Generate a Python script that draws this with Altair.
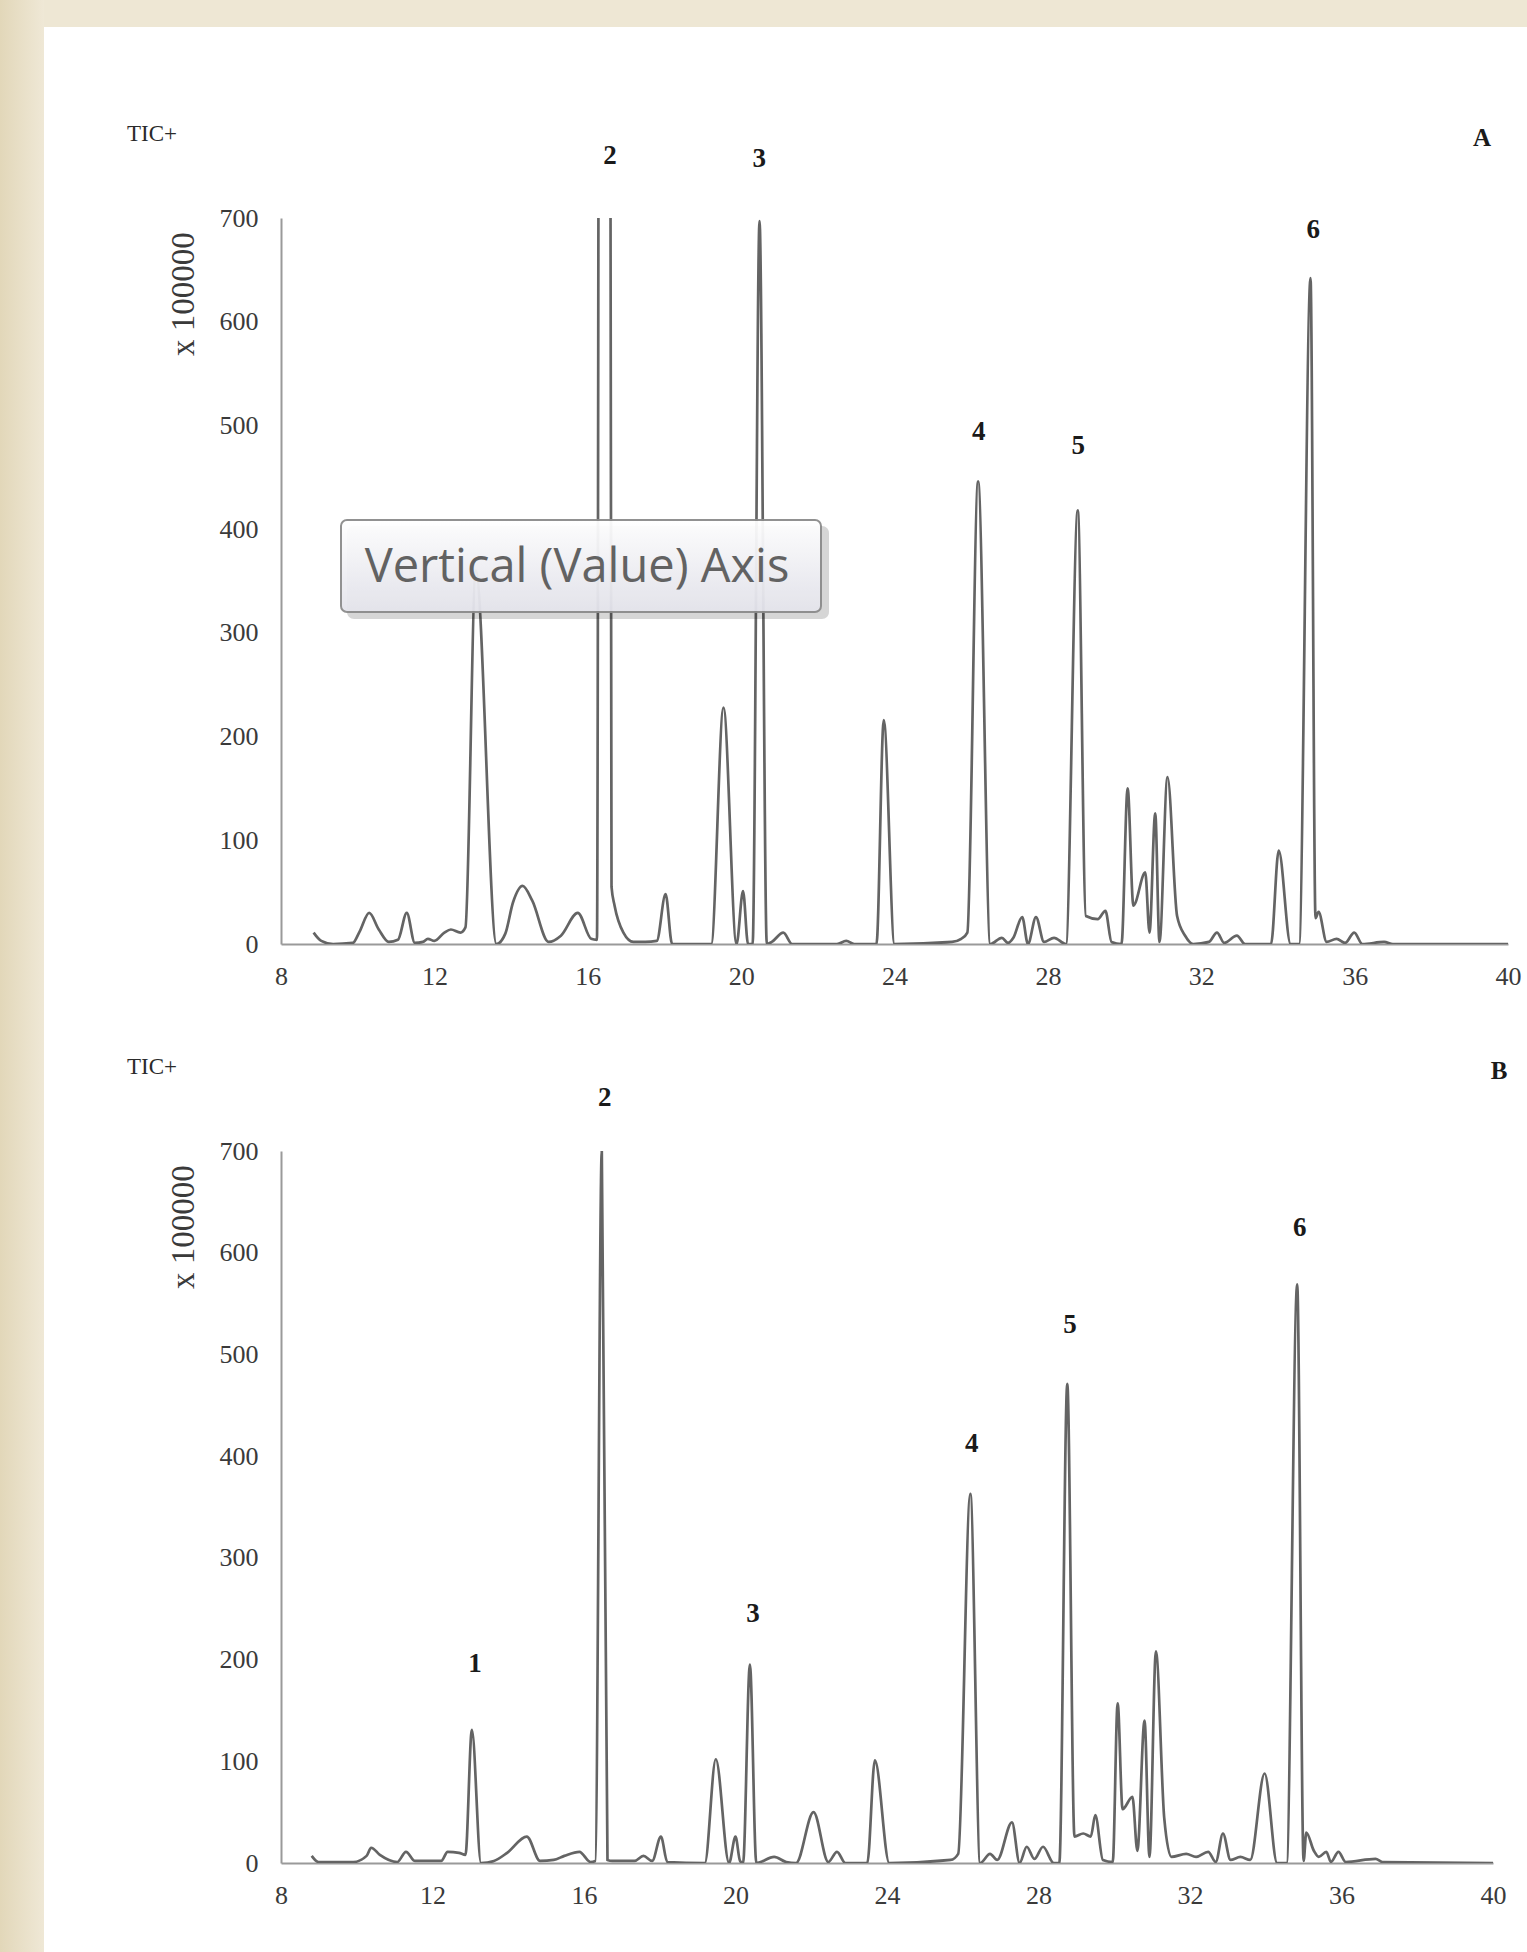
import altair as alt
import pandas as pd

# ---------------- data ----------------
rt_a = [8.85, 9.05, 9.36, 9.87, 10.05, 10.30, 10.55, 10.81, 11.05, 11.28, 11.49, 11.70, 11.83, 12.0,
        12.26, 12.43, 12.68, 12.81, 13.08, 13.62, 13.85, 14.05, 14.30, 14.55, 14.98, 15.3, 15.74,
        16.09, 16.24, 16.33, 16.55, 16.62, 16.70, 16.93, 17.19, 17.5, 17.8, 18.03, 18.2, 19.22,
        19.54, 19.88, 20.05, 20.18, 20.30, 20.48, 20.67, 20.8, 21.1, 21.33, 22.5, 22.74, 22.95,
        23.53, 23.72, 24.0, 25.5, 25.74, 25.9, 26.18, 26.5, 26.8, 26.96, 27.1, 27.33, 27.48, 27.69,
        27.9, 28.16, 28.47, 28.78, 28.99, 29.3, 29.5, 29.66, 29.92, 30.08, 30.23, 30.54, 30.65,
        30.80, 30.91, 31.12, 31.37, 31.58, 31.79, 32.2, 32.41, 32.6, 32.93, 33.14, 33.82, 34.02,
        34.33, 34.55, 34.85, 34.98, 35.06, 35.27, 35.53, 35.75, 35.99, 36.2, 36.77, 37.0, 40.0]
int_a = [11, 3, 0, 1, 12, 30, 14, 2, 4, 30, 1, 2, 5, 3,
         11, 14, 11, 16, 360, 0, 10, 40, 56, 42, 2, 8, 30,
         5, 4, 1800, 1800, 55, 37, 11, 2, 2, 3, 48, 0, 0,
         228, 0, 51, 0, 0, 697, 0, 2, 11, 0, 0, 3, 0,
         0, 216, 0, 2, 5, 11, 446, 0, 6, 1, 6, 26, 0, 26,
         2, 6, 0, 418, 27, 24, 32, 2, 0, 150, 37, 69, 11,
         126, 2, 161, 27, 8, 0, 2, 11, 1, 8, 0, 0, 90,
         0, 0, 642, 25, 31, 2, 5, 1, 11, 0, 2, 0, 0]

rt_b = [8.81, 8.99, 9.91, 10.26, 10.38, 10.61, 11.07, 11.30, 11.54, 12.23, 12.40, 12.70, 12.87,
        13.04, 13.28, 13.62, 13.97, 14.49, 14.84, 15.2, 15.48, 15.88, 16.17, 16.30, 16.47, 16.62,
        16.75, 17.33, 17.57, 17.80, 18.03, 18.20, 19.19, 19.48, 19.83, 20.0, 20.12, 20.2, 20.38,
        20.55, 21.02, 21.34, 21.6, 22.06, 22.45, 22.68, 22.9, 23.48, 23.68, 24.06, 25.68, 25.88,
        26.2, 26.46, 26.72, 26.91, 27.3, 27.5, 27.69, 27.89, 28.12, 28.4, 28.55, 28.76, 28.95,
        29.18, 29.38, 29.5, 29.7, 29.96, 30.09, 30.22, 30.48, 30.61, 30.80, 30.93, 31.10, 31.32,
        31.51, 31.9, 32.16, 32.48, 32.68, 32.87, 33.07, 33.33, 33.59, 33.97, 34.3, 34.55, 34.83,
        35.0, 35.07, 35.27, 35.4, 35.6, 35.72, 35.92, 36.11, 36.9, 37.08, 40.0]
int_b = [7, 1, 1, 7, 15, 8, 1, 11, 2, 2, 11, 10, 8,
         131, 0, 2, 10, 26, 2, 3, 7, 11, 1, 2, 700, 3,
         2, 2, 7, 2, 26, 1, 0, 102, 0, 26, 2, 0, 195,
         0, 6, 1, 0, 50, 1, 11, 0, 0, 101, 0, 3, 9,
         363, 0, 9, 3, 40, 0, 16, 4, 16, 0, 0, 471, 26,
         29, 26, 47, 3, 1, 157, 53, 65, 12, 140, 6, 208, 44,
         6, 9, 6, 11, 1, 29, 3, 6, 3, 88, 0, 0, 569,
         2, 30, 12, 6, 11, 1, 11, 1, 4, 1, 0]

peak_ids_a = ["2", "3", "4", "5", "6"]
peak_rt_a = [16.58, 20.47, 26.20, 28.79, 34.92]
peak_lab_y_a = [760, 757, 494, 480, 688]

peak_ids_b = ["1", "2", "3", "4", "5", "6"]
peak_rt_b = [13.12, 16.55, 20.46, 26.24, 28.83, 34.90]
peak_lab_y_b = [196, 752, 245, 412, 529, 624]

x_ticks = [8, 12, 16, 20, 24, 28, 32, 36, 40]
y_ticks = [0, 100, 200, 300, 400, 500, 600, 700]

panel_letters = ["A", "B"]
tooltip_text = ["Vertical (Value) Axis"]

# ---------------- layout constants ----------------
PAGE_W, PAGE_H = 1527, 1952
LEFT, TOP = 281, 218
W_A, H_A = 1227, 726
W_B, H_B = 1212, 712
GAP = 207

SERIF = "Liberation Serif"
LINE_COLOR = "#646464"
AXIS_COLOR = "#9a9a9a"


def one(text):
    return pd.DataFrame({"t": [text]})


def panel(rt, inten, ids, prt, lab_y, letter, w, h, decor):
    xs = alt.Scale(domain=[8, 40], nice=False, zero=False)
    ys = alt.Scale(domain=[0, 700], nice=False)
    xaxis = alt.Axis(values=x_ticks, ticks=False, grid=False, domainColor=AXIS_COLOR,
                     domainWidth=2, labelFont=SERIF, labelFontSize=26, labelColor="#3a3a3a",
                     labelPadding=19, title=None, format="d", labelFlush=False)
    yaxis = alt.Axis(values=y_ticks, ticks=False, grid=False, domainColor=AXIS_COLOR,
                     domainWidth=2, labelFont=SERIF, labelFontSize=26, labelColor="#3a3a3a",
                     labelPadding=23, title=None, format="d", labelFlush=False)
    df = pd.DataFrame({"rt": rt, "tic": inten})
    line = alt.Chart(df).mark_line(color=LINE_COLOR, strokeWidth=2.7, clip=True,
                                   interpolate="monotone").encode(
        x=alt.X("rt:Q", scale=xs, axis=xaxis),
        y=alt.Y("tic:Q", scale=ys, axis=yaxis),
    )
    lab_df = pd.DataFrame({"id": ids, "rt": prt, "ly": lab_y})
    labels = alt.Chart(lab_df).mark_text(font=SERIF, fontSize=27, fontWeight="bold",
                                         color="#1a1a1a").encode(
        x=alt.X("rt:Q", scale=xs), y=alt.Y("ly:Q", scale=ys), text="id:N")
    tic = alt.Chart(one("TIC+")).mark_text(font=SERIF, fontSize=23, color="#2a2a2a").encode(
        text="t:N", x=alt.value(-129), y=alt.value(-84))
    let = alt.Chart(one(letter)).mark_text(font=SERIF, fontSize=25, fontWeight="bold",
                                           color="#1a1a1a").encode(
        text="t:N", x=alt.value(w - 26 if letter == "A" else w + 6), y=alt.value(-80))
    ytitle = alt.Chart(one("x 100000")).mark_text(font=SERIF, fontSize=33, angle=270,
                                                 color="#3a3a3a").encode(
        text="t:N", x=alt.value(-97), y=alt.value(76))
    layers = []
    if decor:
        top_strip = alt.Chart(one("s")).mark_rect(color="#EEE7D4").encode(
            x=alt.value(-LEFT), x2=alt.value(PAGE_W - LEFT),
            y=alt.value(-TOP), y2=alt.value(27 - TOP))
        left_strip = alt.Chart(one("s")).mark_rect(
            color=alt.Gradient(gradient="linear",
                               stops=[alt.GradientStop(color="#E2D7B9", offset=0),
                                      alt.GradientStop(color="#EFE8D6", offset=1)],
                               x1=0, x2=1, y1=0, y2=0)).encode(
            x=alt.value(-LEFT), x2=alt.value(44 - LEFT),
            y=alt.value(-TOP), y2=alt.value(PAGE_H - TOP))
        layers += [top_strip, left_strip]
    layers += [line, labels, tic, let, ytitle]
    if decor:
        shadow = alt.Chart(one("s")).mark_rect(color="#000000", opacity=0.16,
                                               cornerRadius=7).encode(
            x=alt.value(66), x2=alt.value(548), y=alt.value(308), y2=alt.value(401))
        box = alt.Chart(one("s")).mark_rect(
            color=alt.Gradient(gradient="linear",
                               stops=[alt.GradientStop(color="#FFFFFF", offset=0),
                                      alt.GradientStop(color="#E4E4EC", offset=1)],
                               x1=0, x2=0, y1=0, y2=1),
            opacity=0.95, stroke="#8c8c8c", strokeWidth=2, cornerRadius=6).encode(
            x=alt.value(60), x2=alt.value(540), y=alt.value(302), y2=alt.value(394))
        tip = alt.Chart(pd.DataFrame({"t": tooltip_text})).mark_text(
            font="Open Sans", fontSize=47, color="#626262").encode(
            text="t:N", x=alt.value(296), y=alt.value(350))
        layers += [shadow, box, tip]
    return alt.layer(*layers).properties(width=w, height=h)


pa = panel(rt_a, int_a, peak_ids_a, peak_rt_a, peak_lab_y_a, panel_letters[0], W_A, H_A, True)
pb = panel(rt_b, int_b, peak_ids_b, peak_rt_b, peak_lab_y_b, panel_letters[1], W_B, H_B, False)

chart = alt.vconcat(pa, pb, spacing=GAP, bounds="flush").properties(
    padding=0, background="white"
).configure_view(strokeOpacity=0)

chart.save("out.html", embed_options={"renderer": "svg", "actions": False})
